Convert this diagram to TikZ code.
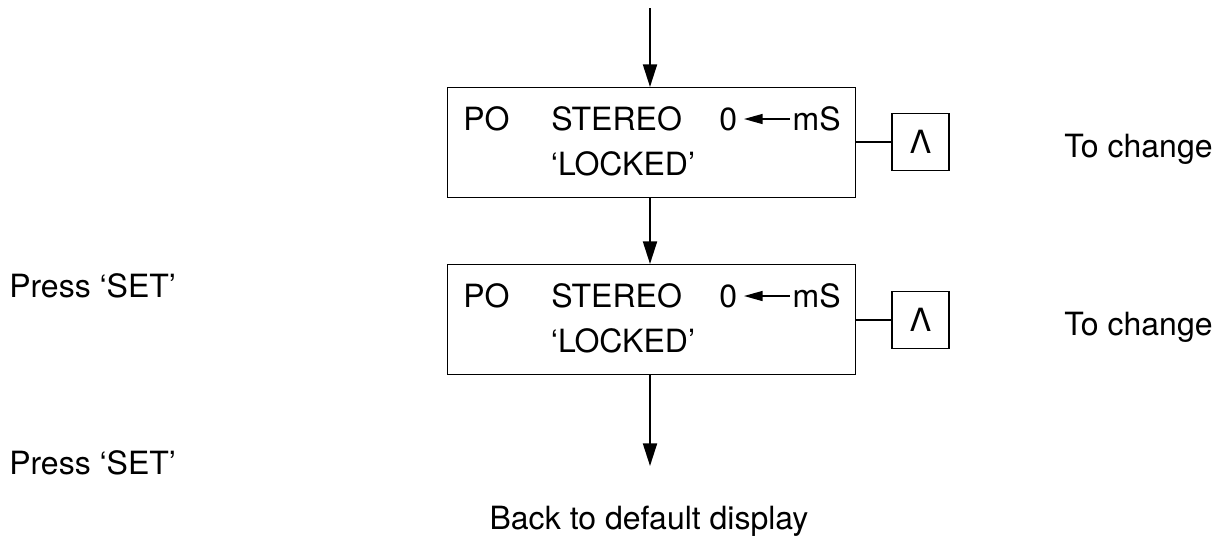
\documentclass[tikz,border=0pt]{standalone}
\usepackage{fontspec}
\setmainfont{TeX Gyre Heros}
\usetikzlibrary{arrows.meta}
\begin{document}
\begin{tikzpicture}[x=0.75pt,y=-0.75pt,
  every node/.style={font=\fontsize{24}{28}\selectfont, inner sep=0pt},
  display/.style={draw, line width=0.9pt, minimum width=306pt, minimum height=82.5pt, anchor=north west},
  keybox/.style={draw, line width=0.9pt, minimum width=42.75pt, minimum height=42.75pt},
  flow/.style={line width=1.5pt, -{Triangle[length=17pt,width=10.5pt]}},
  small/.style={line width=1.1pt, -{Triangle[length=14pt,width=7.5pt]}},
  link/.style={line width=1.2pt}]
\useasboundingbox (0,0) rectangle (1223,551);
% top entry point
\coordinate (start) at (650,8);
% display boxes
\node[display] (d1) at (447,87) {};
\node[display] (d2) at (447,264) {};
% contents of display 1
\node[anchor=west] (po1) at (463,119) {PO};
\node[anchor=west] (st1) at (551,119) {STEREO};
\node[anchor=west] (z1) at (719,119) {0};
\node[anchor=east] (ms1) at (841,119) {mS};
\node (lk1) at (623,164) {‘LOCKED’};
\draw[small] ([xshift=-2]ms1.west) -- ([xshift=5]z1.east);
% contents of display 2
\node[anchor=west] (po2) at (463,296) {PO};
\node[anchor=west] (st2) at (551,296) {STEREO};
\node[anchor=west] (z2) at (719,296) {0};
\node[anchor=east] (ms2) at (841,296) {mS};
\node (lk2) at (623,341) {‘LOCKED’};
\draw[small] ([xshift=-2]ms2.west) -- ([xshift=5]z2.east);
% key boxes
\node[keybox] (k1) at (920.5,142) {Λ};
\node[keybox] (k2) at (920.5,320) {Λ};
\draw[link] (d1.east |- k1.west) -- (k1.west);
\draw[link] (d2.east |- k2.west) -- (k2.west);
% labels
\node[anchor=west] (tc1) at (1064,149) {To change};
\node[anchor=west] (tc2) at (1064,327) {To change};
\node[anchor=west] (ps1) at (9,286) {Press ‘SET’};
\node[anchor=west] (ps2) at (9,463) {Press ‘SET’};
\node (back) at (649,521) {Back to default display};
\coordinate (end) at (650,466);
% flow arrows
\draw[flow] (start) -- (start |- d1.north);
\draw[flow] (d1.south -| start) -- (start |- d2.north);
\draw[flow] (d2.south -| start) -- (end);
\end{tikzpicture}
\end{document}
